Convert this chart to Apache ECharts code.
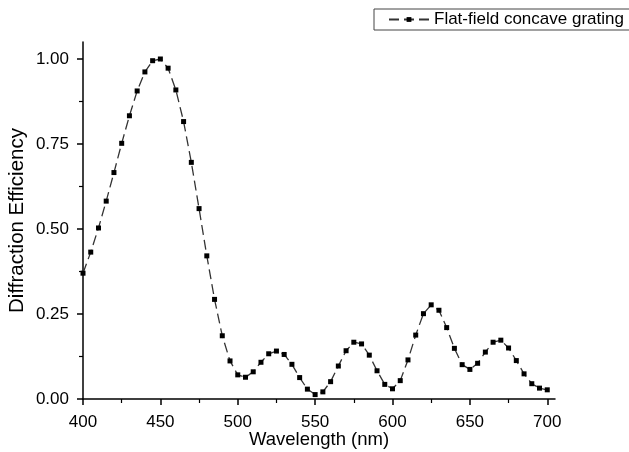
<!DOCTYPE html>
<html>
<head>
<meta charset="utf-8">
<script src="https://cdn.jsdelivr.net/npm/echarts@6/dist/echarts.min.js"></script>
<style>html,body{margin:0;padding:0;background:#fff}#c{width:629px;height:452px}</style>
</head>
<body>
<div id="c"></div>
<script>
const wavelengths = [400,405,410,415,420,425,430,435,440,445,450,455,460,465,470,475,480,485,490,495,500,505,510,515,520,525,530,535,540,545,550,555,560,565,570,575,580,585,590,595,600,605,610,615,620,625,630,635,640,645,650,655,660,665,670,675,680,685,690,695,700];
const efficiency = [0.370,0.432,0.503,0.582,0.666,0.752,0.833,0.906,0.962,0.995,1.000,0.973,0.909,0.816,0.696,0.560,0.421,0.293,0.186,0.112,0.071,0.064,0.080,0.108,0.133,0.141,0.131,0.102,0.063,0.029,0.013,0.021,0.051,0.097,0.142,0.167,0.162,0.129,0.083,0.043,0.030,0.054,0.115,0.188,0.251,0.277,0.261,0.210,0.149,0.101,0.087,0.105,0.138,0.167,0.173,0.150,0.113,0.074,0.045,0.032,0.027];
const xMajorTicks = [400,450,500,550,600,650,700];
const xMinorTicks = [425,475,525,575,625,675];
const yMajorTicks = [0,0.25,0.5,0.75,1.0];
const yMinorTicks = [0.125,0.375,0.625,0.875];
const seriesName = 'Flat-field concave grating';

const font = 'Liberation Sans, Arial, sans-serif';
const chart = echarts.init(document.getElementById('c'));
const axisLine = {show:true, onZero:false, lineStyle:{color:'#000', width:1.5}};
chart.setOption({
  animation:false,
  backgroundColor:'#fff',
  grid:{left:83, right:74, top:42, bottom:53, containLabel:false, outerBoundsMode:'none'},
  legend:{
    left:374, top:9,
    padding:[2,8,2,14],
    borderColor:'#444', borderWidth:1,
    itemWidth:40, itemHeight:6, itemGap:6,
    textStyle:{fontFamily:font, fontSize:17, color:'#000'},
    data:[seriesName]
  },
  xAxis:[{
    type:'value', min:400, max:705,
    name:'Wavelength (nm)', nameLocation:'middle', nameGap:31, nameMoveOverlap:false,
    nameTextStyle:{fontFamily:font, fontSize:18.5, color:'#000'},
    axisLine:axisLine,
    axisTick:{show:true, inside:false, length:6, customValues:xMajorTicks, lineStyle:{color:'#000', width:1.5}},
    axisLabel:{customValues:xMajorTicks, margin:15, fontFamily:font, fontSize:17, color:'#000'},
    splitLine:{show:false}
  },{
    type:'value', min:400, max:705, position:'bottom',
    axisLine:{show:false},
    axisTick:{show:true, length:4, customValues:xMinorTicks, lineStyle:{color:'#000', width:1.2}},
    axisLabel:{show:false},
    splitLine:{show:false}
  }],
  yAxis:[{
    type:'value', min:0, max:1.05,
    name:'Diffraction Efficiency', nameLocation:'middle', nameGap:55, nameMoveOverlap:false,
    nameTextStyle:{fontFamily:font, fontSize:20.5, color:'#000'},
    axisLine:axisLine,
    axisTick:{show:true, length:6, customValues:yMajorTicks, lineStyle:{color:'#000', width:1.5}},
    axisLabel:{customValues:yMajorTicks, margin:14, fontFamily:font, fontSize:17, color:'#000', formatter:v=>v.toFixed(2)},
    splitLine:{show:false}
  },{
    type:'value', min:0, max:1.05, position:'left',
    axisLine:{show:false},
    axisTick:{show:true, length:4, customValues:yMinorTicks, lineStyle:{color:'#000', width:1.2}},
    axisLabel:{show:false},
    splitLine:{show:false}
  }],
  series:[{
    name:seriesName,
    type:'line',
    data:wavelengths.map((w,i)=>[w, efficiency[i]]),
    symbol:'rect', symbolSize:5, showSymbol:true,
    itemStyle:{color:'#000'},
    lineStyle:{color:'#333', width:1.3, type:[10,5]},
    z:3
  }]
});
</script>
</body>
</html>
